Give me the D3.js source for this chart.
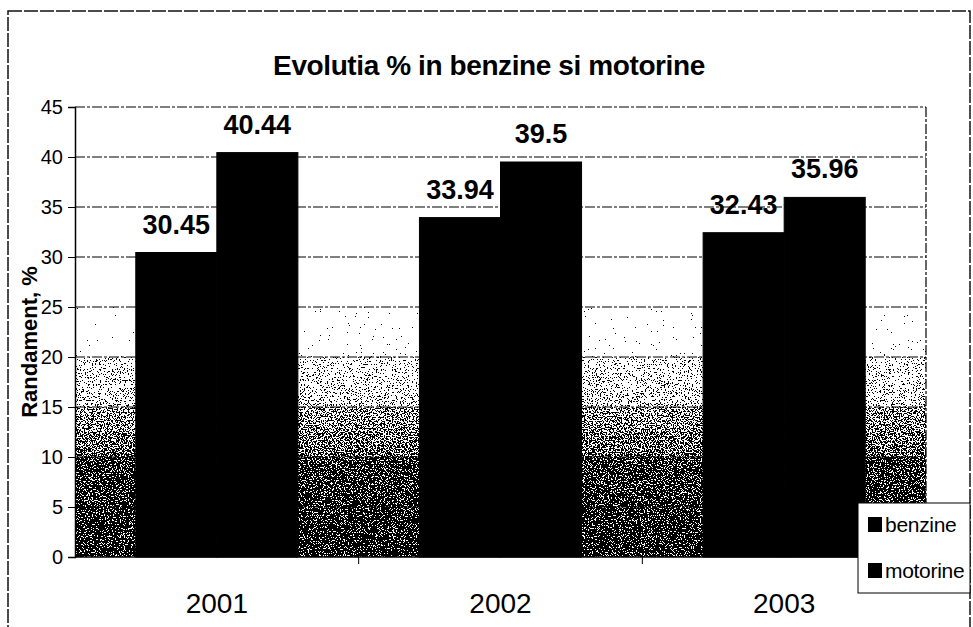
<!DOCTYPE html>
<html>
<head>
<meta charset="utf-8">
<script src="https://cdn.jsdelivr.net/npm/d3@7"></script>
<style>
  body { margin: 0; background: #fff; }
  text { font-family: "Liberation Sans", Arial, sans-serif; }
</style>
</head>
<body>
<div id="chart"></div>
<script>
// data
var years = ["2001", "2002", "2003"];
var seriesNames = ["benzine", "motorine"];
var benzine = [30.45, 33.94, 32.43];
var motorine = [40.44, 39.5, 35.96];
var yTicks = [0, 5, 10, 15, 20, 25, 30, 35, 40, 45];

var W = 973, H = 627;
var margin = {top: 107, right: 47, bottom: 70, left: 75};
var width = W - margin.left - margin.right,
    height = H - margin.top - margin.bottom;

var svg = d3.select("#chart")
  .append("svg")
  .attr("width", W)
  .attr("height", H);

// dithered gradient, like the printed/scanned original
var defs = svg.append("defs");
var grad = defs.append("linearGradient")
  .attr("id", "bg")
  .attr("x1", 0).attr("y1", 0).attr("x2", 0).attr("y2", 1);
// stepped shades, value -> offset from the top of the plot
var shades = [[45, 1], [29, 1], [29, 0.9], [25, 0.86], [25, 0.78], [20, 0.74], [20, 0.64], [15, 0.6], [15, 0.52], [10, 0.48], [10, 0.42], [0, 0.38]];
shades.forEach(function (s) {
  grad.append("stop")
    .attr("offset", (45 - s[0]) / 45)
    .attr("stop-color", d3.rgb(s[1] * 255, s[1] * 255, s[1] * 255));
});

var f = defs.append("filter")
  .attr("id", "dither")
  .attr("x", 0).attr("y", 0).attr("width", 1).attr("height", 1)
  .attr("color-interpolation-filters", "sRGB");
f.append("feTurbulence")
  .attr("type", "fractalNoise")
  .attr("baseFrequency", 0.75)
  .attr("numOctaves", 2)
  .attr("seed", 7)
  .attr("result", "t");
f.append("feColorMatrix")
  .attr("in", "t")
  .attr("type", "matrix")
  .attr("values", "-1 0 0 0 1  -1 0 0 0 1  -1 0 0 0 1  0 0 0 0 1")
  .attr("result", "n");
f.append("feComposite")
  .attr("in", "SourceGraphic")
  .attr("in2", "n")
  .attr("operator", "arithmetic")
  .attr("k1", 0).attr("k2", 1).attr("k3", 1).attr("k4", -0.5)
  .attr("result", "d");
var ct = f.append("feComponentTransfer").attr("in", "d");
["feFuncR", "feFuncG", "feFuncB"].forEach(function (c) {
  ct.append(c).attr("type", "discrete").attr("tableValues", "0 1");
});
ct.append("feFuncA").attr("type", "discrete").attr("tableValues", "1 1");

// outer chart border
svg.append("rect")
  .attr("x", 8).attr("y", 11)
  .attr("width", 962).attr("height", 640)
  .attr("fill", "none")
  .attr("stroke", "#111")
  .attr("stroke-width", 1.5)
  .attr("stroke-dasharray", "14,2");

// title
svg.append("text")
  .attr("x", 489)
  .attr("y", 75)
  .attr("text-anchor", "middle")
  .style("font-size", "28px")
  .style("font-weight", "bold")
  .style("letter-spacing", "-0.4px")
  .text("Evolutia % in benzine si motorine");

var g = svg.append("g")
  .attr("transform", "translate(" + margin.left + "," + margin.top + ")");

var x = d3.scaleBand().domain(years).range([0, width]);
var xs = d3.scaleBand().domain(seriesNames).range([0, x.bandwidth()])
  .paddingInner(0).paddingOuter(0.75);
var y = d3.scaleLinear().domain([0, 45]).range([height, 0]);

// plot background
g.append("rect")
  .attr("width", width)
  .attr("height", height)
  .attr("fill", "url(#bg)")
  .attr("filter", "url(#dither)");

// gridlines
g.append("g")
  .selectAll("line")
  .data(yTicks.filter(function (d) { return d > 0; }))
  .enter()
  .append("line")
  .attr("x1", 0).attr("x2", width)
  .attr("y1", function (d) { return y(d); })
  .attr("y2", function (d) { return y(d); })
  .attr("stroke", "#000")
  .attr("stroke-width", 1.2)
  .attr("stroke-dasharray", "10,2,3,2");

// right border of plot area
g.append("line")
  .attr("x1", width).attr("x2", width)
  .attr("y1", 0).attr("y2", height)
  .attr("stroke", "#000")
  .attr("stroke-width", 1.2)
  .attr("stroke-dasharray", "10,2,3,2");

// bars
var rows = years.map(function (yr, i) {
  return {year: yr, values: [
    {name: "benzine", value: benzine[i]},
    {name: "motorine", value: motorine[i]}
  ]};
});

var groups = g.selectAll(".grp")
  .data(rows)
  .enter()
  .append("g")
  .attr("class", "grp")
  .attr("transform", function (d) { return "translate(" + x(d.year) + ",0)"; });

groups.selectAll("rect")
  .data(function (d) { return d.values; })
  .enter()
  .append("rect")
  .attr("x", function (d) { return xs(d.name); })
  .attr("y", function (d) { return y(d.value); })
  .attr("width", xs.bandwidth())
  .attr("height", function (d) { return height - y(d.value); })
  .attr("fill", "#000")
  .attr("stroke", "#000");

// value labels
groups.selectAll(".lbl")
  .data(function (d) { return d.values; })
  .enter()
  .append("text")
  .attr("class", "lbl")
  .attr("x", function (d) { return xs(d.name) + xs.bandwidth() / 2; })
  .attr("y", function (d) { return y(d.value) - 19; })
  .attr("text-anchor", "middle")
  .style("font-size", "27px")
  .style("font-weight", "bold")
  .text(function (d) { return d.value; });

// y axis
var yAxis = g.append("g")
  .call(d3.axisLeft(y).tickValues(yTicks).tickSize(7).tickPadding(5));
yAxis.select(".domain").attr("stroke", "#000").attr("stroke-width", 1.5);
yAxis.selectAll("text")
  .style("font-size", "20px")
  .style("font-family", "'Liberation Sans', Arial, sans-serif")
  .attr("fill", "#000");

// x axis: ticks on band boundaries
var xAxis = g.append("g")
  .attr("transform", "translate(0," + height + ")");
xAxis.append("line")
  .attr("x1", 0).attr("x2", width)
  .attr("stroke", "#000").attr("stroke-width", 1.5);
xAxis.selectAll(".tk")
  .data(years.slice(1))
  .enter()
  .append("line")
  .attr("class", "tk")
  .attr("x1", function (d) { return x(d); })
  .attr("x2", function (d) { return x(d); })
  .attr("y1", 0).attr("y2", 7)
  .attr("stroke", "#000");
xAxis.selectAll(".cat")
  .data(years)
  .enter()
  .append("text")
  .attr("class", "cat")
  .attr("x", function (d) { return x(d) + x.bandwidth() / 2; })
  .attr("y", 56)
  .attr("text-anchor", "middle")
  .style("font-size", "28px")
  .text(function (d) { return d; });

// y axis title
svg.append("text")
  .attr("transform", "translate(37,342) rotate(-90)")
  .attr("text-anchor", "middle")
  .style("font-size", "22px")
  .style("font-weight", "bold")
  .text("Randament, %");

// legend
var legend = svg.append("g").attr("transform", "translate(858,503)");
legend.append("rect")
  .attr("width", 112).attr("height", 90)
  .attr("fill", "#fff")
  .attr("stroke", "#000");
var items = legend.selectAll(".item")
  .data(seriesNames)
  .enter()
  .append("g")
  .attr("class", "item")
  .attr("transform", function (d, i) { return "translate(10," + (14 + i * 46) + ")"; });
items.append("rect")
  .attr("width", 14).attr("height", 15)
  .attr("fill", "#000");
items.append("text")
  .attr("x", 17)
  .attr("y", 15)
  .style("font-size", "21px")
  .style("letter-spacing", "-0.3px")
  .text(function (d) { return d; });
</script>
</body>
</html>
